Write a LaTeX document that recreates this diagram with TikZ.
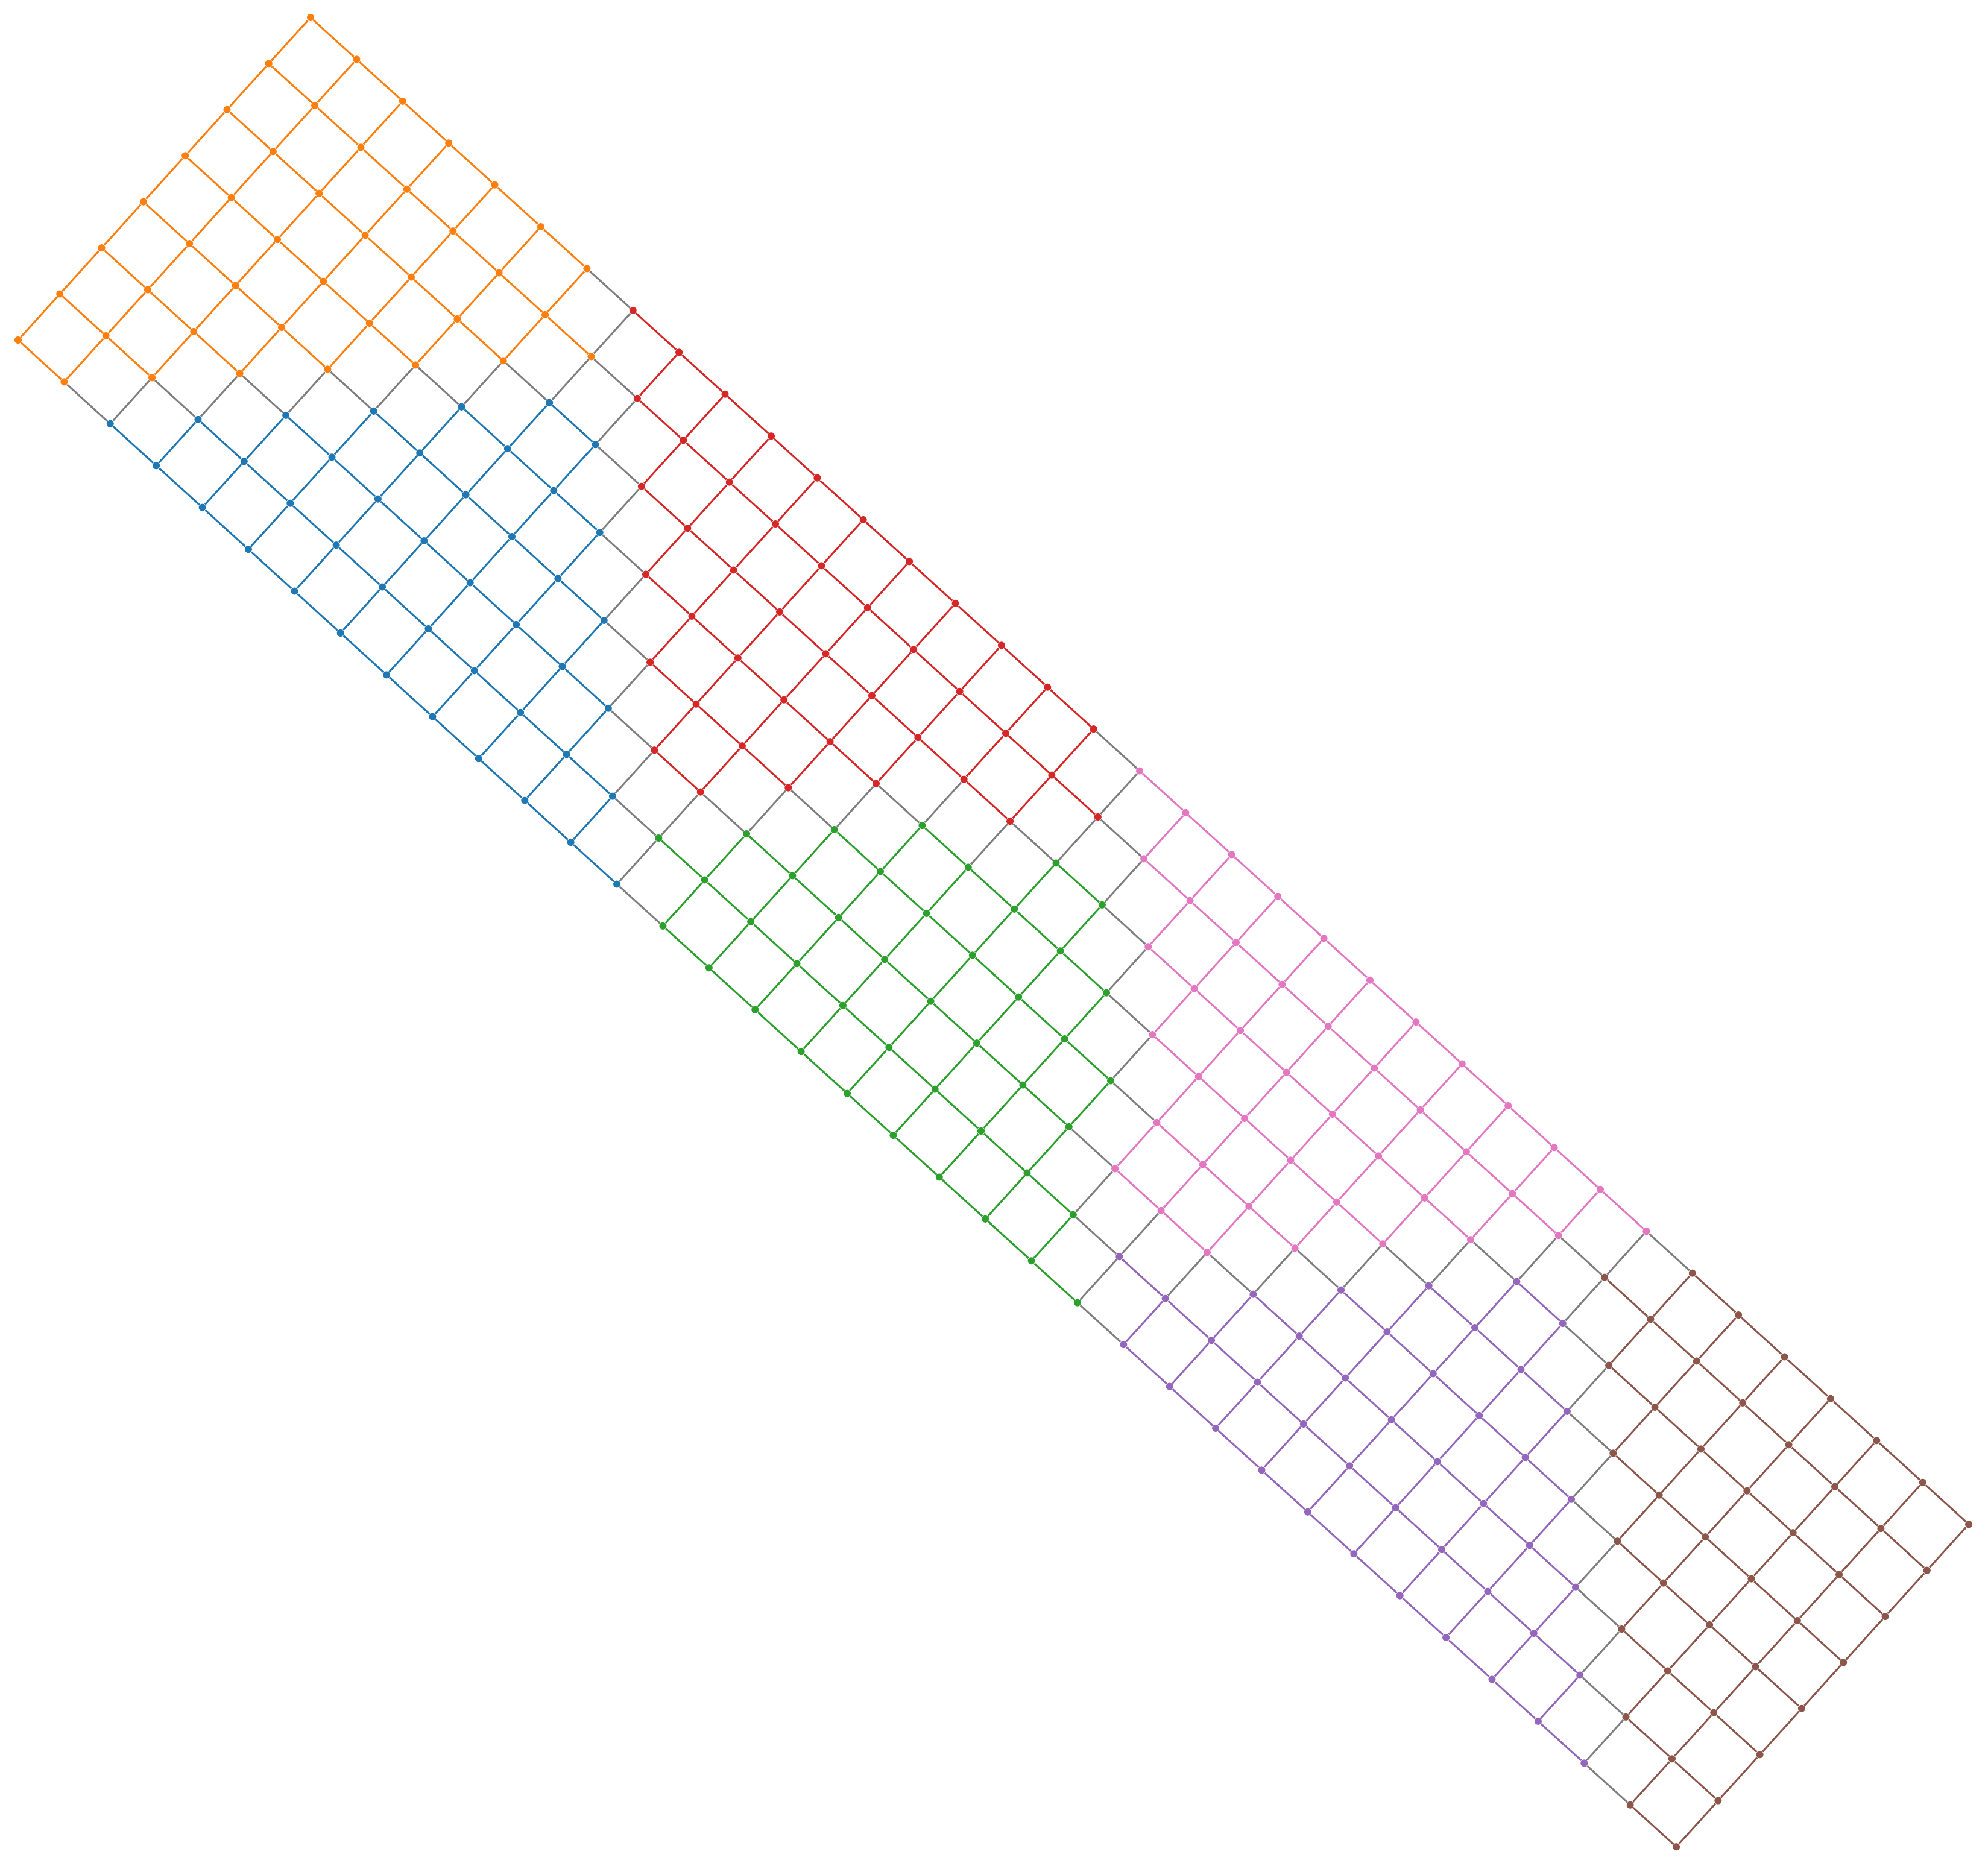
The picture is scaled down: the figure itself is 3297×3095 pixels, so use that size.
\documentclass[tikz,border=0pt]{standalone}
\usepackage{tikz}

\definecolor{tabblue}{HTML}{1F77B4}
\definecolor{taborange}{HTML}{FF7F0E}
\definecolor{tabgreen}{HTML}{2CA02C}
\definecolor{tabred}{HTML}{D62728}
\definecolor{tabpurple}{HTML}{9467BD}
\definecolor{tabbrown}{HTML}{8C564B}
\definecolor{tabpink}{HTML}{E377C2}
\definecolor{tabgray}{HTML}{7F7F7F}

% colour of an edge: block colour if both ends agree, gray otherwise
\newcommand\linkcol[2]{%
  \edef\cola{\csname col-#1\endcsname}\edef\colb{\csname col-#2\endcsname}%
  \ifx\cola\colb\global\let\edgecol\cola\else\gdef\edgecol{tabgray}\fi}

\begin{document}
\begin{tikzpicture}[x=0.01cm, y=-0.01cm,
  dot/.style={circle, draw=none, inner sep=0pt, minimum size=0.12cm},
  link/.style={line width=0.03cm}]
\useasboundingbox (0,0) rectangle (3297,3095);

\foreach \blk/\j/\first/\last in {
  taborange/0/0/6, taborange/1/0/7, taborange/2/0/6, taborange/3/0/5,
  taborange/4/0/4, taborange/5/0/3, taborange/6/0/2, taborange/7/0/1,
  tabblue/2/7/8, tabblue/3/6/9, tabblue/4/5/10, tabblue/5/4/11,
  tabblue/6/3/12, tabblue/7/2/13,
  tabred/0/7/17, tabred/1/8/18, tabred/2/9/17, tabred/3/10/15,
  tabred/4/11/14, tabred/5/12/13,
  tabgreen/2/18/19, tabgreen/3/16/20, tabgreen/4/15/21, tabgreen/5/14/21,
  tabgreen/6/13/22, tabgreen/7/14/23,
  tabpink/0/18/29, tabpink/1/19/28, tabpink/2/20/27, tabpink/3/21/26,
  tabpink/4/22/25, tabpink/5/22/24,
  tabpurple/2/28/29, tabpurple/3/27/30, tabpurple/4/26/31, tabpurple/5/25/32,
  tabpurple/6/23/33, tabpurple/7/24/34,
  tabbrown/0/30/36, tabbrown/1/29/36, tabbrown/2/30/36, tabbrown/3/31/36,
  tabbrown/4/32/36, tabbrown/5/33/36, tabbrown/6/34/36, tabbrown/7/35/36}
  \foreach \i in {\first,...,\last} {
    \node[dot, fill=\blk] (n-\i-\j) at ({515+76.39*\i-69.29*\j}, {29+69.42*\i+76.43*\j}) {};
    \expandafter\xdef\csname col-\i-\j\endcsname{\blk}
  };

\foreach \j in {0,...,7}
  \foreach \i in {0,...,35} {
    \pgfmathtruncatemacro\ii{\i+1}
    \linkcol{\i-\j}{\ii-\j}
    \draw[link, draw=\edgecol] (n-\i-\j) -- (n-\ii-\j);
  }
\foreach \i in {0,...,36}
  \foreach \j in {0,...,6} {
    \pgfmathtruncatemacro\jj{\j+1}
    \linkcol{\i-\j}{\i-\jj}
    \draw[link, draw=\edgecol] (n-\i-\j) -- (n-\i-\jj);
  }
\end{tikzpicture}
\end{document}
